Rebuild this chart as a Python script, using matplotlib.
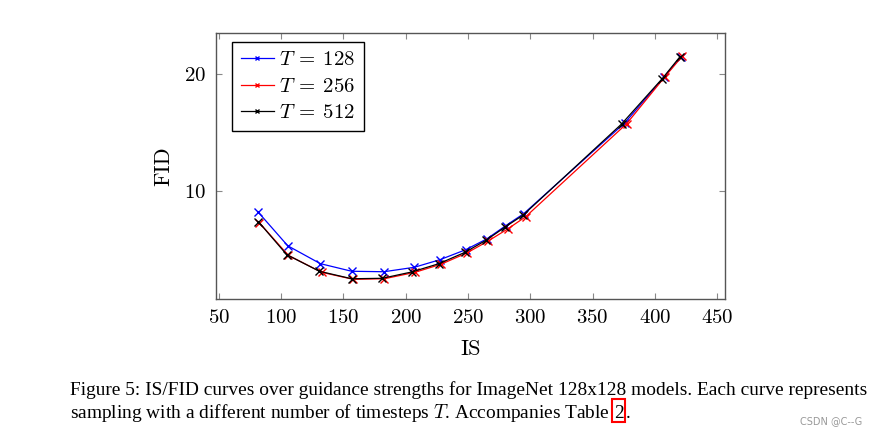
import numpy as np
import matplotlib
matplotlib.use("Agg")
import matplotlib.pyplot as plt
from matplotlib.patches import Rectangle

# Data
is_128 = [81.6, 105.2, 131.4, 156.6, 182.5, 206.9, 227.5, 248.1, 265.0, 280.5, 294.6, 376.1, 407.4, 421.1]
fid_128 = [8.18, 5.32, 3.79, 3.14, 3.10, 3.48, 4.13, 4.98, 5.90, 7.05, 8.05, 15.84, 19.72, 21.48]

is_256 = [82.4, 105.7, 132.5, 157.9, 182.8, 207.4, 228.3, 249.0, 266.3, 282.2, 296.3, 377.4, 408.2, 421.9]
fid_256 = [7.29, 4.50, 3.05, 2.45, 2.50, 3.05, 3.74, 4.70, 5.73, 6.78, 7.80, 15.75, 19.77, 21.50]

is_512 = [81.6, 104.4, 130.6, 156.6, 181.2, 204.8, 226.7, 247.6, 264.5, 279.8, 294.4, 373.4, 406.0, 420.3]
fid_512 = [7.38, 4.56, 3.14, 2.50, 2.54, 3.08, 3.79, 4.76, 5.79, 6.92, 7.95, 15.73, 19.60, 21.48]

labels = [r"$T\:=\:128$", r"$T\:=\:256$", r"$T\:=\:512$"]
colors = ["blue", "red", "black"]

x_ticks = [50, 100, 150, 200, 250, 300, 350, 400, 450]
y_ticks = [10, 20]

caption_1 = ("Figure 5: IS/FID curves over guidance strengths for ImageNet 128x128 models. "
             "Each curve represents")
caption_2 = "sampling with a different number of timesteps $T$. Accompanies Table"

plt.rcParams["mathtext.fontset"] = "cm"
plt.rcParams["font.family"] = ["cmr10", "DejaVu Serif"]
plt.rcParams["axes.formatter.use_mathtext"] = True

fig = plt.figure(figsize=(8.77, 4.36), dpi=100)
ax = fig.add_axes([216 / 877, 1 - 299 / 436, 509 / 877, 266 / 436])

series = [(is_128, fid_128), (is_256, fid_256), (is_512, fid_512)]
for (xs, ys), lab, c in zip(series, labels, colors):
    ax.plot(xs, ys, color=c, lw=0.9, marker="x", ms=6, mew=1.0, label=lab)

ax.set_xlim(47.6, 456.4)
ax.set_ylim(0.77, 23.5)
ax.set_xticks(x_ticks)
ax.set_yticks(y_ticks)
ax.tick_params(direction="in", top=True, right=True, length=4, width=0.8,
               color="#888888", labelsize=15, pad=7)
for s in ax.spines.values():
    s.set_color("#555555")
    s.set_linewidth(1.0)

ax.set_xlabel("IS", fontsize=16, labelpad=9)
ax.set_ylabel("FID", fontsize=16, labelpad=8)

leg = ax.legend(loc="upper left", bbox_to_anchor=(0.031, 0.966), fontsize=15,
                handlelength=1.6, handletextpad=0.25, borderpad=0.42,
                labelspacing=0.38, fancybox=False, framealpha=1, borderaxespad=0,
                markerscale=0.6)
leg.get_frame().set_edgecolor("black")
leg.get_frame().set_linewidth(1.0)

# caption in Times-like font
cap_kw = dict(fontsize=13.95, family="Liberation Serif", va="baseline", ha="left")
y1 = 1 - 395 / 436
y2 = 1 - 418 / 436
fig.text(70 / 877, y1, caption_1, **cap_kw)
t2 = fig.text(70 / 877, y2, caption_2, **cap_kw)

fig.canvas.draw()
r = fig.canvas.get_renderer()
bb = t2.get_window_extent(r)
x2 = (bb.x1 + 4) / fig.bbox.width
t3 = fig.text(x2, y2, "2", **cap_kw)
bb3 = t3.get_window_extent(r)
fig.text((bb3.x1 + 2.5) / fig.bbox.width, y2, ".", **cap_kw)
fig.patches.append(Rectangle((bb3.x0 - 1.5, y2 * fig.bbox.height - 4), bb3.width + 3, 23,
                             transform=None, fill=False, edgecolor="red", lw=1.5))

fig.text(862 / 877, 1 - 421 / 436, "CSDN @C--G", fontsize=7, color="#999999",
         family="DejaVu Sans", ha="right", va="center")

fig.savefig("out.png", dpi=100)
